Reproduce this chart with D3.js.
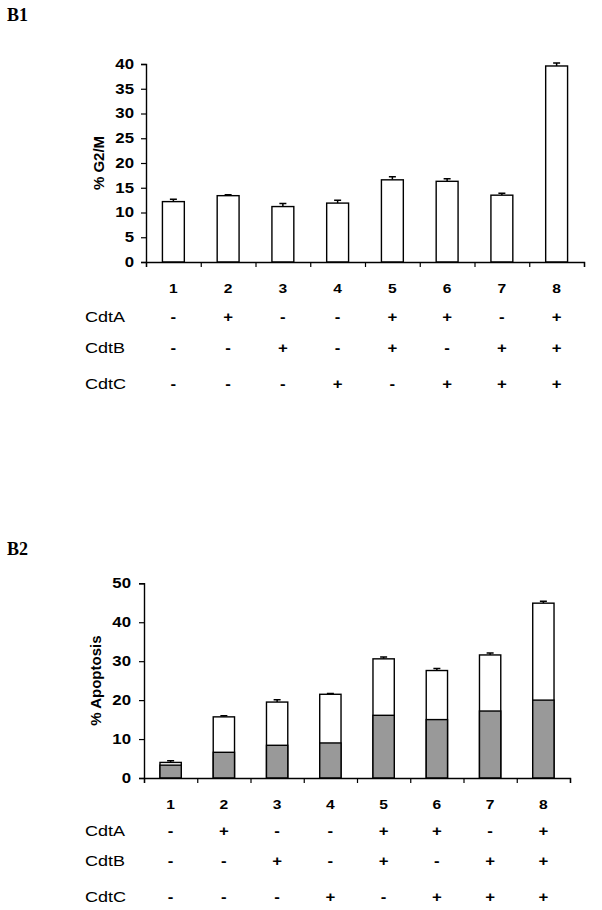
<!DOCTYPE html>
<html>
<head>
<meta charset="utf-8">
<script src="https://cdn.jsdelivr.net/npm/d3@7"></script>
<style>
  body { margin: 0; background: #fff; }
  svg text { font-family: "Liberation Sans", Arial, sans-serif; }
</style>
</head>
<body>
<div class="chart"></div>
<script>
// lanes 1..8
var lanes = ["1", "2", "3", "4", "5", "6", "7", "8"];
var cdtA = ["-", "+", "-", "-", "+", "+", "-", "+"];
var cdtB = ["-", "-", "+", "-", "+", "-", "+", "+"];
var cdtC = ["-", "-", "-", "+", "-", "+", "+", "+"];

// B1: % G2/M
var g2mValues = [12.2, 13.4, 11.2, 11.9, 16.6, 16.3, 13.5, 39.6];
var g2mErrors = [0.5, 0.2, 0.6, 0.6, 0.6, 0.5, 0.4, 0.6];
var g2mTicks = [0, 5, 10, 15, 20, 25, 30, 35, 40];

// B2: % Apoptosis (total, grey lower part)
var apoTotal = [4.0, 15.7, 19.5, 21.5, 30.6, 27.6, 31.6, 44.9];
var apoLower = [3.3, 6.6, 8.4, 9.0, 16.1, 15.0, 17.2, 20.0];
var apoErrors = [0.4, 0.3, 0.6, 0.2, 0.5, 0.5, 0.5, 0.5];
var apoTicks = [0, 10, 20, 30, 40, 50];

// the figure text is a bit wider than plain Arial
var stretch = 1.2;

var svg = d3.select(".chart").append("svg")
  .attr("width", 602)
  .attr("height", 910);

function place(x, y) {
  return "translate(" + x + "," + y + ") scale(" + stretch + ",1)";
}

function drawPanel(opt) {
  var g = svg.append("g");

  var x = d3.scaleBand().domain(lanes)
    .range([opt.left, opt.right])
    .paddingInner(0.6).paddingOuter(0.3);
  var xEdge = d3.scaleLinear().domain([0, lanes.length]).range([opt.left, opt.right]);
  var y = d3.scaleLinear().domain([0, opt.max]).range([opt.bottom, opt.top]);
  var mid = function (d) { return x(d) + x.bandwidth() / 2; };

  // panel label
  g.append("text")
    .attr("x", 7).attr("y", opt.labelY)
    .style("font-family", "'Liberation Serif', 'Times New Roman', serif")
    .style("font-weight", "bold")
    .style("font-size", "18px")
    .text(opt.label);

  var data = lanes.map(function (d, i) {
    return { lane: d, total: opt.total[i], lower: opt.lower ? opt.lower[i] : null, err: opt.err[i] };
  });

  // error bars (upper only)
  g.selectAll(".err").data(data).enter().append("path")
    .attr("d", function (d) {
      var cx = mid(d.lane);
      var y1 = y(d.total), y2 = y(d.total + d.err);
      return "M" + cx + "," + y1 + "V" + y2 + "M" + (cx - 3.5) + "," + y2 + "H" + (cx + 3.5);
    })
    .style("fill", "none")
    .style("stroke", "#000")
    .style("stroke-width", 1.5);

  g.selectAll(".bar").data(data).enter().append("rect")
    .attr("x", function (d) { return x(d.lane); })
    .attr("y", function (d) { return y(d.total); })
    .attr("width", x.bandwidth())
    .attr("height", function (d) { return y(0) - y(d.total); })
    .style("fill", "#fff")
    .style("stroke", "#000")
    .style("stroke-width", 1.4);

  if (opt.lower) {
    g.selectAll(".lower").data(data).enter().append("rect")
      .attr("x", function (d) { return x(d.lane); })
      .attr("y", function (d) { return y(d.lower); })
      .attr("width", x.bandwidth())
      .attr("height", function (d) { return y(0) - y(d.lower); })
      .style("fill", "#999999")
      .style("stroke", "#000")
      .style("stroke-width", 1.4);
  }

  // y axis
  var yAxis = g.append("g")
    .attr("transform", "translate(" + opt.left + ",0)")
    .call(d3.axisLeft(y).tickValues(opt.ticks).tickSize(5).tickPadding(opt.tickPad));
  yAxis.selectAll("text")
    .attr("x", -(5 + opt.tickPad) / stretch)
    .attr("transform", "scale(" + stretch + ",1)")
    .style("font-size", "14px")
    .style("font-weight", "bold")
    .style("fill", "#000");

  // x axis, ticks at lane boundaries
  g.append("g")
    .attr("transform", "translate(0," + opt.bottom + ")")
    .call(d3.axisBottom(xEdge).ticks(lanes.length).tickSize(5).tickFormat(""));

  g.selectAll(".domain").style("stroke", "#000").style("stroke-width", 1.4);
  g.selectAll(".tick line").style("stroke", "#000").style("stroke-width", 1.2);

  // y title
  g.append("text")
    .attr("transform", "translate(" + opt.titleX + "," + ((opt.top + opt.bottom) / 2) + ") rotate(-90)")
    .style("text-anchor", "middle")
    .style("font-size", "15px")
    .style("font-weight", "bold")
    .text(opt.title);

  // lane numbers
  g.selectAll(".num").data(lanes).enter().append("text")
    .attr("transform", function (d) { return place(mid(d), opt.bottom + 31); })
    .style("text-anchor", "middle")
    .style("font-size", "13px")
    .style("font-weight", "bold")
    .text(function (d) { return d; });

  // +/- rows
  var rows = [["CdtA", cdtA, opt.rowY[0]], ["CdtB", cdtB, opt.rowY[1]], ["CdtC", cdtC, opt.rowY[2]]];
  rows.forEach(function (r) {
    g.append("text")
      .attr("transform", place(85, r[2]))
      .style("font-size", "15px")
      .text(r[0]);
    g.selectAll(".sign-" + r[0]).data(r[1]).enter().append("text")
      .attr("transform", function (d, i) { return place(mid(lanes[i]), r[2]); })
      .style("text-anchor", "middle")
      .style("font-size", "14px")
      .style("font-weight", "bold")
      .text(function (d) { return d; });
  });
}

drawPanel({
  label: "B1", labelY: 21,
  left: 146, right: 584, top: 64, bottom: 262, max: 40,
  ticks: g2mTicks, total: g2mValues, lower: null, err: g2mErrors,
  title: "% G2/M", titleX: 104, tickPad: 7,
  rowY: [322, 353, 389]
});

drawPanel({
  label: "B2", labelY: 555,
  left: 144, right: 570, top: 583.3, bottom: 778, max: 50,
  ticks: apoTicks, total: apoTotal, lower: apoLower, err: apoErrors,
  title: "% Apoptosis", titleX: 101, tickPad: 8,
  rowY: [836, 866, 902]
});
</script>
</body>
</html>
